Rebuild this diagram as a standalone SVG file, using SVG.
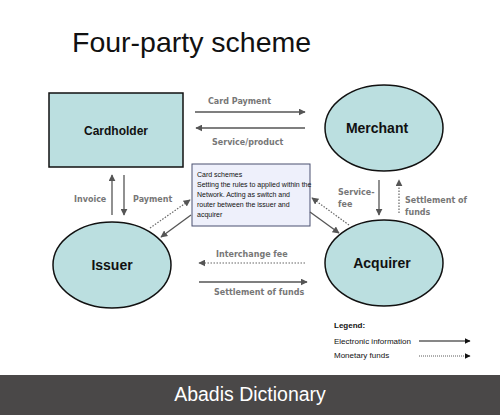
<svg xmlns="http://www.w3.org/2000/svg" width="500" height="415" viewBox="0 0 500 415">
<defs>
<marker id="ah" viewBox="0 0 10 10" refX="9" refY="5" markerWidth="7" markerHeight="7" markerUnits="userSpaceOnUse" orient="auto"><path d="M0,0 L10,5 L0,10 z" fill="#555"/></marker>
<marker id="ahk" viewBox="0 0 10 10" refX="9" refY="5" markerWidth="6" markerHeight="6" markerUnits="userSpaceOnUse" orient="auto"><path d="M0,0 L10,5 L0,10 z" fill="#111"/></marker>
</defs>
<style>
.node{fill:#bbdfe0;stroke:#111;stroke-width:1.5}
.nl{font-family:"Liberation Sans",Arial,sans-serif;font-weight:bold;fill:#111;text-anchor:middle}
.c{stroke:#555;stroke-width:1.3;fill:none;marker-end:url(#ah)}
.d{stroke:#666;stroke-width:1.2;fill:none;stroke-dasharray:1.5 1.5;marker-end:url(#ah)}
.lb{font-family:"DejaVu Sans",Verdana,sans-serif;font-size:8px;font-weight:bold;fill:#777}
.sm{font-family:"Liberation Sans",Arial,sans-serif;font-size:7px;fill:#111}
.lg{font-family:"Liberation Sans",Arial,sans-serif;font-size:8px;fill:#111}
</style>
<rect width="500" height="415" fill="#fff"/>
<text x="72" y="52" font-family="Liberation Sans,Arial,sans-serif" font-size="28.5" fill="#111">Four-party scheme</text>
<g id="cardholder"><rect class="node" x="49" y="93" width="134" height="74"/><text class="nl" x="116" y="135" font-size="12">Cardholder</text></g>
<g id="merchant"><ellipse class="node" cx="384" cy="128" rx="59" ry="43"/><text class="nl" x="377" y="133" font-size="14">Merchant</text></g>
<g id="issuer"><ellipse class="node" cx="112" cy="265" rx="59" ry="43"/><text class="nl" x="112" y="270" font-size="14">Issuer</text></g>
<g id="acquirer"><ellipse class="node" cx="384" cy="263" rx="59" ry="43"/><text class="nl" x="382" y="268" font-size="14">Acquirer</text></g>
<g id="cardschemes"><rect x="192" y="164" width="118" height="62" fill="#eef0fb" stroke="#4a5070" stroke-width="1"/>
<text class="sm" x="197" y="177">Card schemes</text>
<text class="sm" x="197" y="187">Setting the rules to applied within the</text>
<text class="sm" x="197" y="197">Network. Acting as switch and</text>
<text class="sm" x="197" y="207">router between the issuer and</text>
<text class="sm" x="197" y="217">acquirer</text></g>
<g id="connectors">
<line class="c" x1="195" y1="112" x2="305" y2="112"/>
<text class="lb" x="208" y="104">Card Payment</text>
<line class="c" x1="305" y1="128" x2="196" y2="128"/>
<text class="lb" x="212" y="145">Service/product</text>
<line class="c" x1="112" y1="215" x2="112" y2="175"/>
<line class="c" x1="124" y1="175" x2="124" y2="215"/>
<text class="lb" x="74" y="202">Invoice</text>
<text class="lb" x="133" y="202">Payment</text>
<line class="d" x1="150" y1="228" x2="190" y2="200"/>
<line class="c" x1="191" y1="215" x2="161" y2="237"/>
<line class="d" x1="349" y1="225" x2="312" y2="198"/>
<line class="c" x1="310" y1="212" x2="339" y2="233"/>
<line class="c" x1="379" y1="180" x2="379" y2="215"/>
<text class="lb" x="338" y="195">Service-</text>
<text class="lb" x="338" y="207">fee</text>
<line class="d" x1="399" y1="213" x2="399" y2="180"/>
<text class="lb" x="405" y="203">Settlement of</text>
<text class="lb" x="405" y="215">funds</text>
<line class="d" x1="305" y1="263" x2="199" y2="263"/>
<text class="lb" x="216" y="257">Interchange fee</text>
<line class="c" x1="199" y1="282" x2="307" y2="282"/>
<text class="lb" x="214" y="295">Settlement of funds</text>
</g>
<g id="legend">
<text class="lg" x="334" y="328" font-weight="bold">Legend:</text>
<text class="lg" x="334" y="344" font-size="7.8">Electronic information</text>
<line x1="419" y1="341" x2="470" y2="341" stroke="#111" stroke-width="1.2" marker-end="url(#ahk)"/>
<text class="lg" x="334" y="358" font-size="7.8">Monetary funds</text>
<line x1="419" y1="356" x2="470" y2="356" stroke="#333" stroke-width="0.8" stroke-dasharray="1 1" marker-end="url(#ahk)"/>
</g>
<rect x="0" y="375" width="500" height="40" fill="#4a4848"/>
<text x="250" y="401" font-family="Liberation Sans,Arial,sans-serif" font-size="19.5" fill="#fff" text-anchor="middle">Abadis Dictionary</text>
</svg>
